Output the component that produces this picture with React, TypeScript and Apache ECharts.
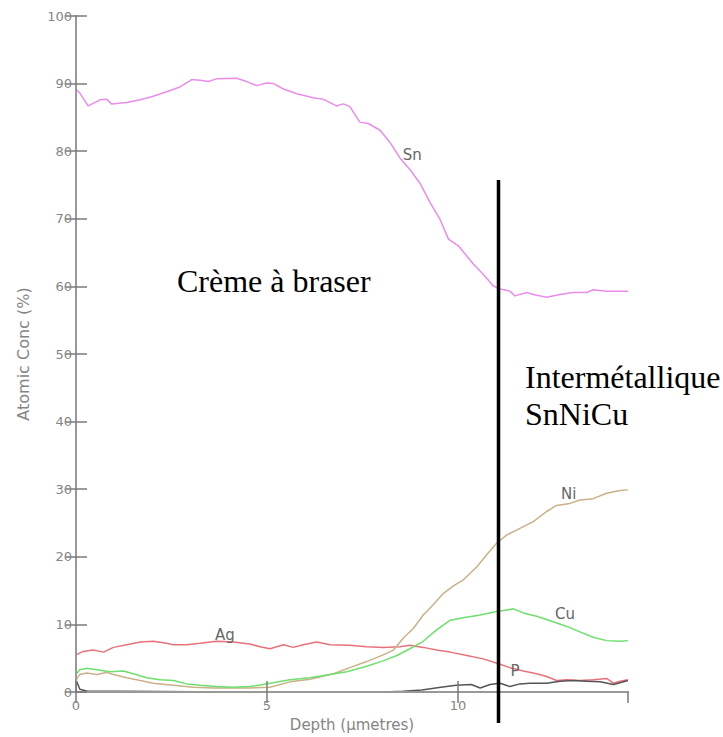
import React, { useEffect, useRef } from "react";
import * as echarts from "echarts";

const xTicks = [0, 5, 10];
const yTickLabels = ["0", "10", "20", "30", "40", "50", "60", "70", "80", "90", "100"];

const snDepth = [0, 0.1, 0.32, 0.63, 0.8, 0.93, 1.33, 1.68, 2.0, 2.37, 2.72, 3.03, 3.25, 3.46, 3.68, 4.21, 4.47, 4.73, 4.99, 5.17, 5.43, 5.78, 6.21, 6.47, 6.82, 7.0, 7.17, 7.43, 7.65, 7.96, 8.22, 8.48, 8.74, 9.0, 9.27, 9.53, 9.75, 10.01, 10.23, 10.4, 10.66, 10.92, 11.1, 11.36, 11.49, 11.8, 11.97, 12.32, 12.67, 13.02, 13.37, 13.54, 13.89, 14.45];
const snConc = [89.2, 88.6, 86.7, 87.6, 87.7, 87.0, 87.2, 87.6, 88.1, 88.8, 89.5, 90.6, 90.5, 90.3, 90.7, 90.8, 90.3, 89.7, 90.1, 90.0, 89.2, 88.5, 87.9, 87.7, 86.7, 87.0, 86.6, 84.3, 84.1, 83.1, 81.3, 79.0, 77.3, 75.3, 72.4, 69.9, 67.0, 66.0, 64.5, 63.3, 61.8, 60.1, 59.6, 59.3, 58.6, 59.1, 58.8, 58.4, 58.8, 59.1, 59.1, 59.5, 59.3, 59.3];

const agDepth = [0, 0.19, 0.45, 0.72, 0.98, 1.33, 1.68, 2.02, 2.37, 2.55, 2.9, 3.25, 3.68, 4.12, 4.55, 4.82, 5.08, 5.43, 5.69, 5.95, 6.3, 6.65, 7.17, 7.61, 8.04, 8.48, 8.74, 9.09, 9.44, 9.79, 10.23, 10.66, 11.1, 11.36, 11.71, 12.06, 12.32, 12.58, 12.85, 13.19, 13.54, 13.89, 14.07, 14.24, 14.45];
const agConc = [5.5, 6.0, 6.2, 5.9, 6.6, 7.0, 7.4, 7.5, 7.2, 7.0, 7.0, 7.2, 7.5, 7.4, 7.1, 6.7, 6.4, 7.0, 6.6, 7.0, 7.4, 7.0, 6.9, 6.7, 6.6, 6.7, 6.9, 6.6, 6.2, 5.9, 5.4, 4.9, 4.1, 3.6, 3.1, 2.7, 2.3, 1.7, 1.8, 1.7, 1.8, 2.0, 1.3, 1.6, 1.8];

const niDepth = [0, 0.1, 0.28, 0.54, 0.8, 0.98, 1.33, 1.68, 2.02, 2.55, 3.07, 3.6, 4.12, 4.55, 5.08, 5.6, 6.13, 6.74, 7.17, 7.61, 8.04, 8.31, 8.57, 8.83, 9.09, 9.35, 9.62, 9.88, 10.14, 10.49, 10.75, 11.01, 11.27, 11.62, 11.97, 12.32, 12.58, 12.93, 13.19, 13.54, 13.89, 14.24, 14.45];
const niConc = [1.8, 2.6, 2.8, 2.6, 2.9, 2.6, 2.1, 1.7, 1.3, 1.0, 0.7, 0.6, 0.6, 0.6, 0.7, 1.5, 1.9, 2.7, 3.6, 4.5, 5.5, 6.2, 8.0, 9.4, 11.4, 12.9, 14.6, 15.7, 16.6, 18.5, 20.3, 22.0, 23.2, 24.2, 25.2, 26.7, 27.6, 27.9, 28.4, 28.6, 29.4, 29.8, 29.9];

const cuDepth = [0, 0.1, 0.28, 0.54, 0.89, 1.24, 1.5, 1.85, 2.2, 2.55, 2.9, 3.25, 3.68, 4.12, 4.55, 5.08, 5.6, 6.13, 6.65, 7.09, 7.61, 8.04, 8.4, 8.74, 9.09, 9.44, 9.79, 10.14, 10.58, 11.01, 11.45, 11.71, 12.06, 12.49, 12.85, 13.19, 13.54, 13.89, 14.24, 14.45];
const cuConc = [2.6, 3.3, 3.5, 3.3, 3.0, 3.1, 2.7, 2.1, 1.8, 1.7, 1.2, 1.0, 0.8, 0.7, 0.8, 1.3, 1.8, 2.1, 2.6, 3.0, 3.8, 4.6, 5.4, 6.4, 7.5, 9.2, 10.6, 11.0, 11.4, 11.9, 12.3, 11.7, 11.2, 10.4, 9.7, 8.9, 8.1, 7.6, 7.5, 7.6];

const pDepth = [0, 0.1, 0.3, 1.2, 4.0, 8.06, 8.56, 9.05, 9.55, 9.95, 10.35, 10.58, 10.84, 11.1, 11.36, 11.62, 11.88, 12.32, 12.67, 13.02, 13.37, 13.72, 14.07, 14.45];
const pConc = [1.8, 0.4, 0.1, 0.1, 0, 0, 0.1, 0.3, 0.7, 1.0, 1.1, 0.6, 1.1, 1.3, 0.8, 1.2, 1.3, 1.3, 1.6, 1.7, 1.6, 1.5, 1.1, 1.7];

const seriesNames = ["Sn", "Ag", "Ni", "Cu", "P"];
const seriesColors = ["#e98de9", "#e8727a", "#cbb088", "#6ee06e", "#555555"];
const labelDepth = [8.8, 3.9, 12.9, 12.8, 11.49];
const labelConc = [79.5, 8.4, 29.3, 11.6, 3.1];

const X_MAX = 14.45;
const SANS = "'DejaVu Sans', Verdana, sans-serif";
const SERIF = "32px 'Liberation Serif', 'Times New Roman', serif";

export default function App() {
  const ref = useRef<HTMLDivElement>(null);
  useEffect(() => {
    if (!ref.current) return;
    const chart = echarts.init(ref.current, undefined, { renderer: "svg" });
    const depths = [snDepth, agDepth, niDepth, cuDepth, pDepth];
    const concs = [snConc, agConc, niConc, cuConc, pConc];
    const axisGray = "#999999";
    const tickGray = "#7a7a7a";
    const labelGray = "#858585";
    const series = seriesNames.map((name, i) => ({
      type: "line",
      name,
      xAxisIndex: 0,
      yAxisIndex: 0,
      showSymbol: false,
      symbol: "none",
      z: 2,
      lineStyle: { color: seriesColors[i], width: 1.5 },
      itemStyle: { color: seriesColors[i] },
      data: depths[i].map((d, j) => [d, concs[i][j]]),
      markPoint: {
        symbol: "circle",
        symbolSize: 0,
        silent: true,
        label: {
          show: true,
          position: "inside",
          formatter: name,
          color: "#666666",
          fontSize: 15,
          fontFamily: SANS,
        },
        data: [{ coord: [labelDepth[i], labelConc[i]] }],
      },
    }));
    const xCommon = {
      type: "value",
      min: 0,
      max: X_MAX,
      interval: 5,
      z: 5,
      axisLine: { show: true, lineStyle: { color: axisGray, width: 2 } },
      axisTick: { show: true, inside: true, length: 11, lineStyle: { color: tickGray, width: 1.5 } },
      splitLine: { show: false },
    };
    const yCommon = {
      type: "value",
      min: 0,
      max: 100,
      interval: 10,
      z: 5,
      axisLine: { show: true, lineStyle: { color: axisGray, width: 2 } },
      axisTick: { show: true, inside: true, length: 11, lineStyle: { color: tickGray, width: 1.5 } },
      splitLine: { show: false },
    };
    const option = {
      animation: false,
      backgroundColor: "#ffffff",
      grid: { left: 76, right: 95, top: 16, bottom: 43, containLabel: false },
      xAxis: [
        {
          ...xCommon,
          position: "bottom",
          name: "Depth (µmetres)",
          nameLocation: "middle",
          nameGap: 25,
          nameTextStyle: { color: labelGray, fontSize: 15, fontFamily: SANS },
          axisLabel: {
            show: true,
            margin: 7,
            color: labelGray,
            fontSize: 13,
            fontFamily: SANS,
            showMaxLabel: false,
            formatter: (v: number) => (xTicks.includes(v) ? String(v) : ""),
          },
        },
        { ...xCommon, position: "top", axisLabel: { show: false } },
      ],
      yAxis: [
        {
          ...yCommon,
          position: "left",
          name: "Atomic Conc (%)",
          nameLocation: "middle",
          nameGap: 45,
          nameTextStyle: { color: labelGray, fontSize: 16, fontFamily: SANS },
          axisLabel: {
            show: true,
            margin: 4,
            color: labelGray,
            fontSize: 13,
            fontFamily: SANS,
            formatter: (v: number) => yTickLabels[Math.round(v / 10)] ?? "",
          },
        },
        { ...yCommon, position: "right", axisLabel: { show: false } },
      ],
      series,
      graphic: [
        {
          type: "rect",
          z: 100,
          shape: { x: 512, y: 349, width: 211, height: 106 },
          style: { fill: "#ffffff" },
        },
        {
          type: "line",
          z: 101,
          shape: { x1: 498.5, y1: 180, x2: 498.5, y2: 723 },
          style: { stroke: "#000000", lineWidth: 3.5 },
        },
        {
          type: "text",
          z: 102,
          x: 177,
          y: 281,
          style: { text: "Crème à braser", fill: "#000000", font: SERIF, textAlign: "left", textVerticalAlign: "middle" },
        },
        {
          type: "text",
          z: 102,
          x: 525,
          y: 377,
          style: { text: "Intermétallique", fill: "#000000", font: SERIF, textAlign: "left", textVerticalAlign: "middle" },
        },
        {
          type: "text",
          z: 102,
          x: 525,
          y: 414,
          style: { text: "SnNiCu", fill: "#000000", font: SERIF, textAlign: "left", textVerticalAlign: "middle" },
        },
      ],
    };
    chart.setOption(option as any);
    return () => chart.dispose();
  }, []);
  return (
    <div
      ref={ref}
      style={{ position: "fixed", left: 0, top: 0, width: 723, height: 737, background: "#fff" }}
    />
  );
}
